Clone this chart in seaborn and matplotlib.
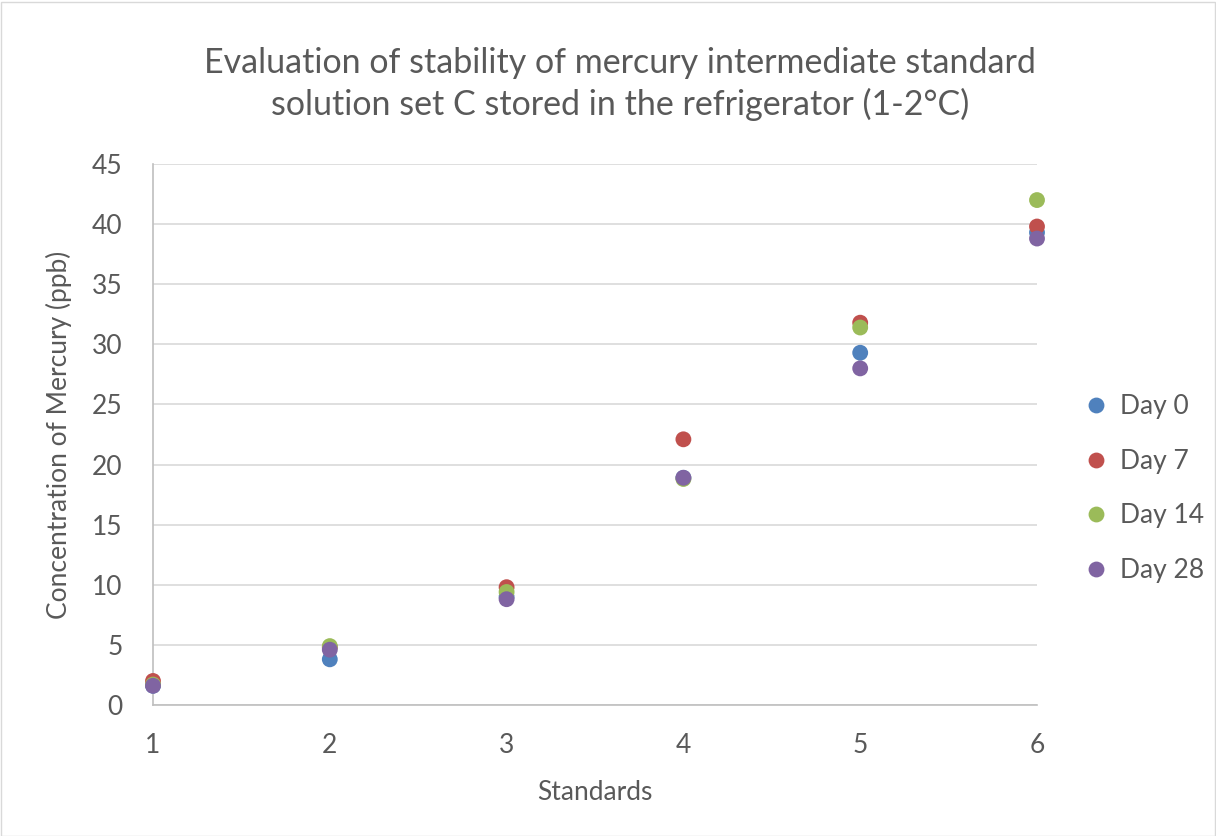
import matplotlib
matplotlib.use("Agg")
import matplotlib.pyplot as plt
import seaborn as sns
import pandas as pd
from matplotlib.patches import Rectangle

standards = [1, 2, 3, 4, 5, 6]
day0 = [1.6, 3.8, 9.0, 18.9, 29.3, 39.3]
day7 = [2.0, 4.8, 9.8, 22.1, 31.8, 39.8]
day14 = [1.7, 4.9, 9.4, 18.8, 31.4, 42.0]
day28 = [1.6, 4.6, 8.8, 18.9, 28.0, 38.8]
series_names = ["Day 0", "Day 7", "Day 14", "Day 28"]
colors = ["#4F81BD", "#C0504D", "#9BBB59", "#8064A2"]

rows = []
for name, vals in zip(series_names, [day0, day7, day14, day28]):
    for s, v in zip(standards, vals):
        rows.append({"Standards": s, "Value": v, "Series": name})
df = pd.DataFrame(rows)

sns.set_theme(style="white")
plt.rcParams["font.family"] = ["Lato", "DejaVu Sans"]
text_color = "#595959"

fig = plt.figure(figsize=(12.16, 8.36), dpi=100)
ax = fig.add_axes([153 / 1216, 1 - 705 / 836, (1037 - 153) / 1216, (705 - 164) / 836])

sns.scatterplot(data=df, x="Standards", y="Value", hue="Series",
                palette=colors, hue_order=series_names, s=130,
                edgecolor="none", ax=ax, legend=True, zorder=3, clip_on=False)

ax.set_xlim(1, 6)
ax.set_ylim(0, 45)
ax.set_xticks(standards)
ax.set_yticks(range(0, 46, 5))
ax.yaxis.grid(True, color="#D9D9D9", linewidth=1.2)
ax.xaxis.grid(False)
ax.set_axisbelow(True)
for side in ["top", "right"]:
    ax.spines[side].set_visible(False)
for side in ["left", "bottom"]:
    ax.spines[side].set_color("#BFBFBF")
    ax.spines[side].set_linewidth(1.2)
ax.tick_params(axis="both", labelsize=19, colors=text_color, length=0)
ax.tick_params(axis="y", pad=22)
ax.tick_params(axis="x", pad=20)
ax.set_xlabel("Standards", fontsize=19, color=text_color, labelpad=16)
ax.set_ylabel("Concentration of Mercury (ppb)", fontsize=19, color=text_color, labelpad=14)

fig.text(620 / 1216, 1 - 84 / 836,
         "Evaluation of stability of mercury intermediate standard\nsolution set C stored in the refrigerator (1-2°C)",
         ha="center", va="center", fontsize=24.5, color=text_color, linespacing=1.3)

handles, labels = ax.get_legend_handles_labels()
leg = ax.legend(handles, labels, loc="center left", bbox_to_anchor=(1.0396, 0.40),
                frameon=False, fontsize=19, labelcolor=text_color, borderaxespad=0,
                handlelength=1.0, handletextpad=0.4, labelspacing=1.12, markerscale=1.0)

fig.patches.append(Rectangle((0.5 / 1216, 0.5 / 836), 1 - 2 / 1216, 1 - 2 / 836,
                             transform=fig.transFigure, fill=False,
                             edgecolor="#D9D9D9", linewidth=1.0))

fig.savefig("out.png", dpi=100, facecolor="white")
